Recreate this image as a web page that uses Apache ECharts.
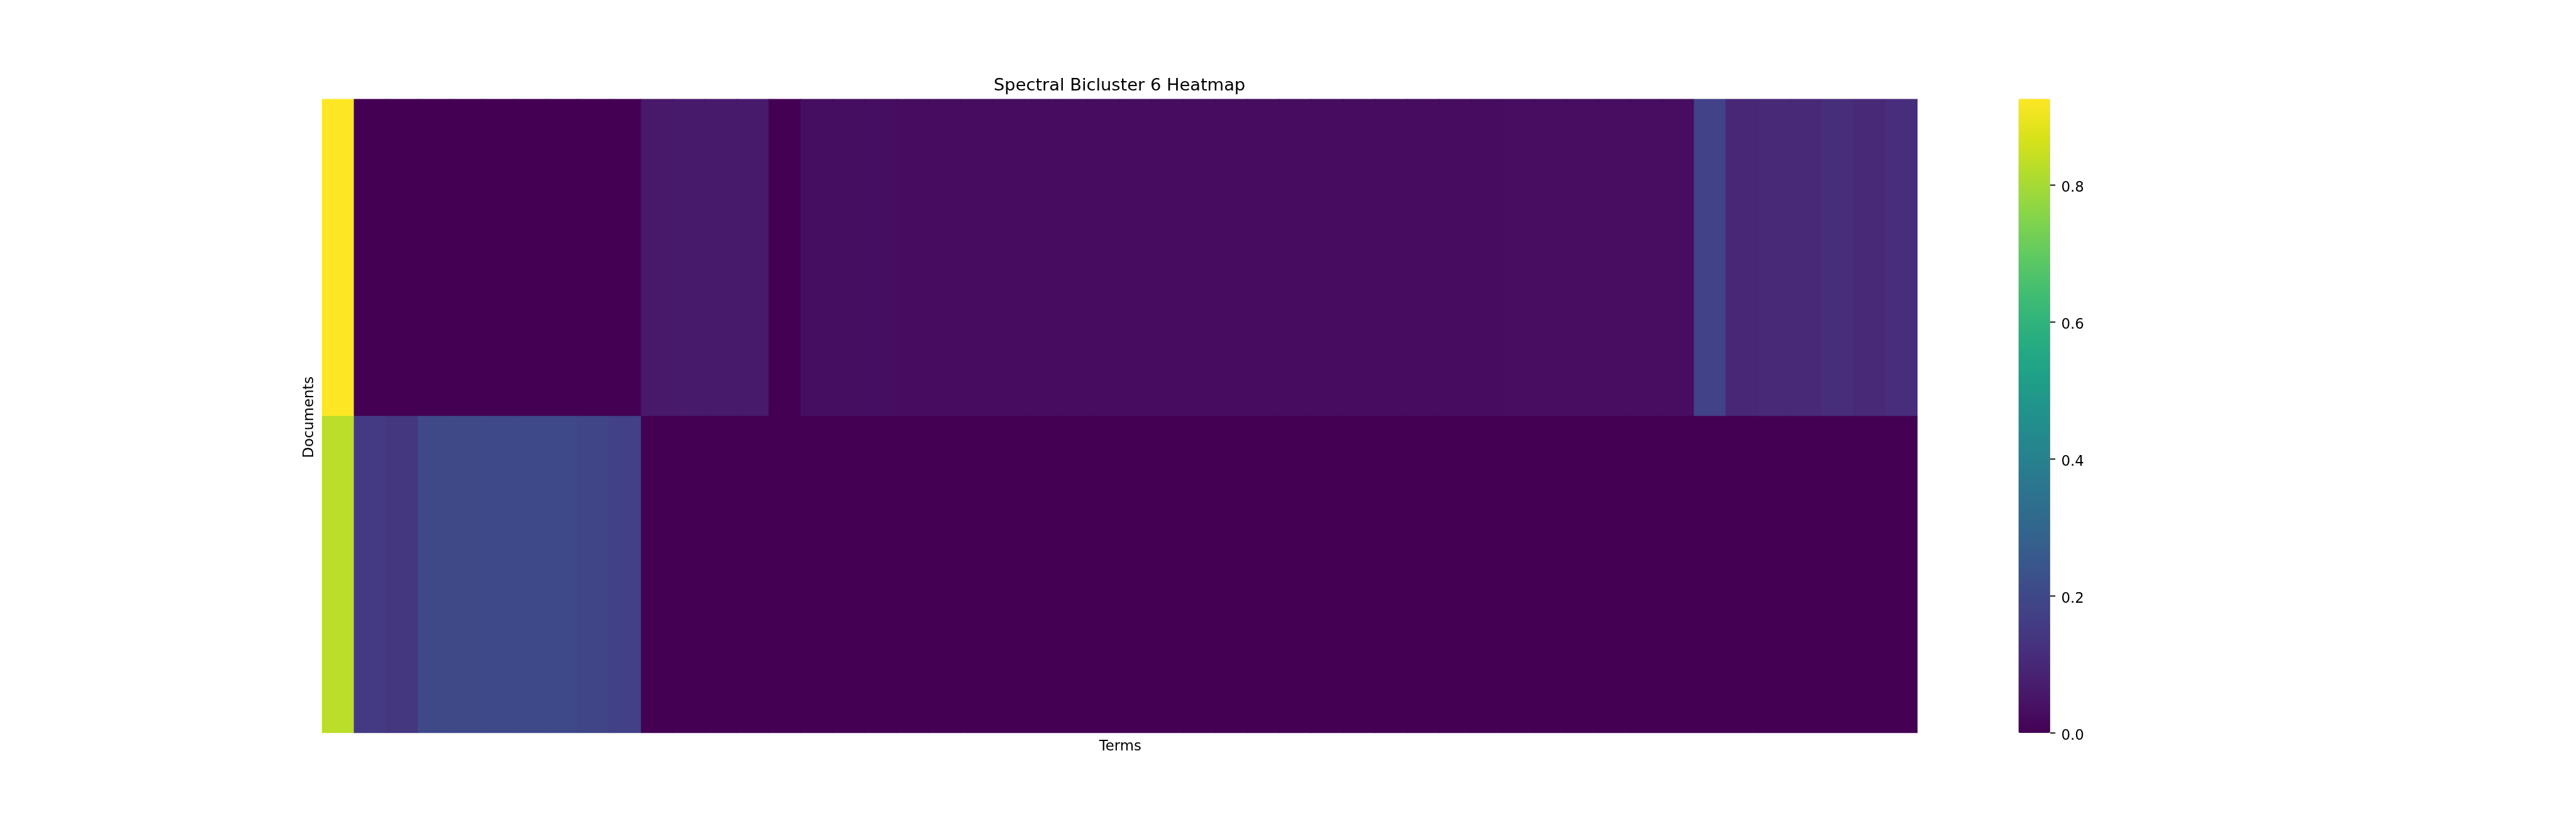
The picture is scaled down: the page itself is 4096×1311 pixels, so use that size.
<!DOCTYPE html>
<html>
<head>
<meta charset="utf-8">
<script src="https://cdn.jsdelivr.net/npm/echarts@6/dist/echarts.min.js"></script>
<style>
html, body { margin: 0; padding: 0; background: #ffffff; }
#chart { width: 4096px; height: 1311px; }
</style>
</head>
<body>
<div id="chart"></div>
<script>
// ---- Data ----
const chartTitle = 'Spectral Bicluster 6 Heatmap';
const xAxisTitle = 'Terms';
const yAxisTitle = 'Documents';

const documents = ['Document 1', 'Document 2'];

const terms = [
  'T1','T2','T3','T4','T5','T6','T7','T8','T9','T10',
  'T11','T12','T13','T14','T15','T16','T17','T18','T19','T20',
  'T21','T22','T23','T24','T25','T26','T27','T28','T29','T30',
  'T31','T32','T33','T34','T35','T36','T37','T38','T39','T40',
  'T41','T42','T43','T44','T45','T46','T47','T48','T49','T50'
];

// Top row (Document 1)
const document1Values = [
  0.926,
  0, 0, 0, 0, 0, 0, 0, 0, 0,
  0.058, 0.063, 0.063, 0.063,
  0,
  0.033, 0.033, 0.033,
  0.030, 0.030, 0.030, 0.030,
  0.027, 0.027, 0.027, 0.027, 0.027, 0.027, 0.027, 0.027, 0.027, 0.027, 0.027, 0.027, 0.027, 0.027, 0.027,
  0.031, 0.031, 0.031, 0.031, 0.031, 0.031,
  0.181, 0.098, 0.104, 0.104, 0.118, 0.106, 0.115
];

// Bottom row (Document 2)
const document2Values = [
  0.828,
  0.156, 0.142, 0.202, 0.202, 0.204, 0.204, 0.204, 0.190, 0.175,
  0, 0, 0, 0, 0, 0, 0, 0, 0, 0,
  0, 0, 0, 0, 0, 0, 0, 0, 0, 0,
  0, 0, 0, 0, 0, 0, 0, 0, 0, 0,
  0, 0, 0, 0, 0, 0, 0, 0, 0, 0
];

const colorbarMin = 0;
const colorbarMax = 0.926;
const colorbarTicks = [0, 0.2, 0.4, 0.6, 0.8];

// viridis colour map stops (low -> high)
const viridis = [
  '#440154', '#48186a', '#472d7b', '#424086', '#3b528b', '#33638d',
  '#2c728e', '#26828e', '#21918c', '#1fa088', '#28ae80', '#3fbc73',
  '#5ec962', '#84d44b', '#addc30', '#d8e219', '#fde725'
];

// ---- Layout (reference px * 0.819) ----
const S = 0.819;
const FONT = '"DejaVu Sans", "Liberation Sans", sans-serif';
const plot = { left: 625 * S, top: 192 * S, width: 3097 * S, height: 1232 * S };
const cbar = { left: 3918.75 * S, top: 192 * S, width: 61.6 * S, height: 1232 * S };
const tickLength = 10 * S;
const tickWidth = 2.2 * S;

const heatData = [];
[document1Values, document2Values].forEach(function (vals, r) {
  vals.forEach(function (v, c) { heatData.push([c, r, v]); });
});
const colorbarTickData = colorbarTicks.map(function (v) { return [1, v]; });

const chart = echarts.init(document.getElementById('chart'), null, { renderer: 'canvas', width: 4096, height: 1311 });

// cells drawn through the axes' scales; a small overlap hides anti-aliasing seams
function renderCell(params, api) {
  const center = api.coord([api.value(0), api.value(1)]);
  const size = api.size([1, 1]);
  return {
    type: 'rect',
    shape: { x: center[0] - size[0] / 2, y: center[1] - size[1] / 2, width: size[0] + 1, height: size[1] + 1 },
    style: { fill: api.visual('color') },
    silent: true
  };
}

// colorbar tick marks (outward from the colorbar's right edge)
function renderColorbarTick(params, api) {
  const p = api.coord([api.value(0), api.value(1)]);
  return {
    type: 'line',
    shape: { x1: p[0], y1: p[1], x2: p[0] + tickLength, y2: p[1] },
    style: { stroke: '#000000', lineWidth: tickWidth },
    silent: true
  };
}

const option = {
  backgroundColor: '#ffffff',
  animation: false,
  grid: [
    { left: plot.left, top: plot.top, width: plot.width, height: plot.height, containLabel: false },
    { left: cbar.left, top: cbar.top, width: cbar.width, height: cbar.height, containLabel: false }
  ],
  xAxis: [
    { type: 'category', gridIndex: 0, data: terms,
      axisLine: { show: false }, axisTick: { show: false }, axisLabel: { show: false }, splitLine: { show: false } },
    { type: 'value', gridIndex: 1, min: 0, max: 1, show: false }
  ],
  yAxis: [
    { type: 'category', gridIndex: 0, data: documents, inverse: true,
      axisLine: { show: false }, axisTick: { show: false }, axisLabel: { show: false }, splitLine: { show: false } },
    { type: 'value', gridIndex: 1, min: colorbarMin, max: colorbarMax, position: 'right',
      axisLine: { show: false }, splitLine: { show: false }, axisTick: { show: false },
      axisLabel: {
        show: true, margin: 17.7, customValues: colorbarTicks,
        formatter: function (v) { return '{t|' + Number(v).toFixed(1) + '}'; },
        rich: { t: { padding: [9, 0, 0, 0], fontSize: 27.8 * S, fontFamily: FONT, color: '#000000' } },
        fontSize: 27.8 * S, fontFamily: FONT, color: '#000000'
      } }
  ],
  visualMap: {
    type: 'continuous',
    min: colorbarMin, max: colorbarMax,
    seriesIndex: 0, dimension: 2,
    calculable: false, hoverLink: false,
    orient: 'vertical',
    left: cbar.left, top: cbar.top,
    itemWidth: cbar.width, itemHeight: cbar.height,
    padding: 0, text: null, showLabel: false,
    inRange: { color: viridis }
  },
  series: [
    {
      type: 'custom',
      name: 'Bicluster 6',
      coordinateSystem: 'cartesian2d',
      xAxisIndex: 0, yAxisIndex: 0,
      encode: { x: 0, y: 1 },
      data: heatData,
      clip: true,
      renderItem: renderCell
    },
    {
      type: 'custom',
      name: 'Colorbar ticks',
      coordinateSystem: 'cartesian2d',
      xAxisIndex: 1, yAxisIndex: 1,
      encode: { x: 0, y: 1 },
      data: colorbarTickData,
      clip: false,
      z: 5,
      renderItem: renderColorbarTick
    }
  ],
  graphic: [
    { type: 'text', x: (625 + 3722) / 2 * S, y: 163 * S + 3.5, silent: true,
      style: { text: chartTitle, fill: '#000000', font: (33.3 * S).toFixed(2) + 'px ' + FONT, align: 'center', verticalAlign: 'middle' } },
    { type: 'text', x: 2175 * S, y: 1446 * S + 3.8, silent: true,
      style: { text: xAxisTitle, fill: '#000000', font: (27.8 * S).toFixed(2) + 'px ' + FONT, align: 'center', verticalAlign: 'middle' } },
    { type: 'text', x: 599 * S + 2, y: 808 * S + 2, rotation: Math.PI / 2, silent: true,
      style: { text: yAxisTitle, fill: '#000000', font: (27.8 * S).toFixed(2) + 'px ' + FONT, align: 'center', verticalAlign: 'middle' } }
  ]
};

chart.setOption(option);
</script>
</body>
</html>
